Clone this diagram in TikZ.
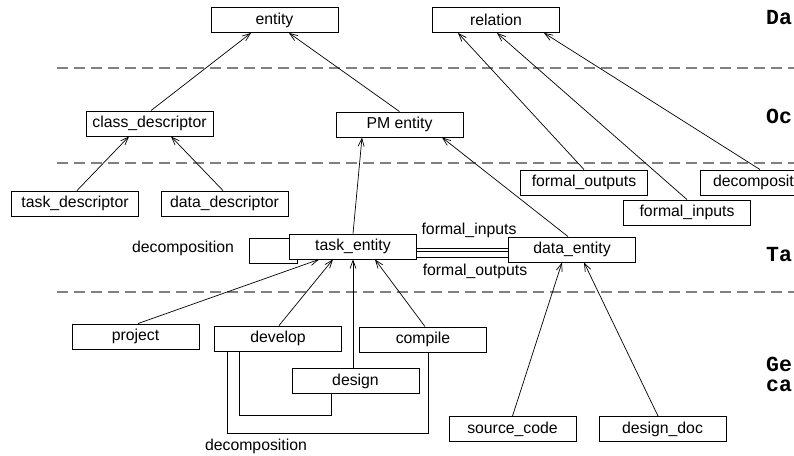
\documentclass[tikz,border=0pt]{standalone}
\usepackage{fontspec}
\setmainfont{Liberation Sans}
\newfontfamily\lyrfont{Liberation Mono}
\usetikzlibrary{arrows.meta}

\begin{document}
\begin{tikzpicture}[x=1pt, y=-1pt,
  cls/.style={rectangle, draw, fill=white, line width=0.9pt, minimum width=127pt, minimum height=25pt,
              inner sep=0pt, font=\fontsize{15.8}{18}\selectfont},
  isa/.style={-{Straight Barb[length=8pt, width=6pt]}, line width=0.7pt},
  rel/.style={line width=0.8pt},
  layer/.style={gray, line width=2pt, dash pattern=on 11pt off 6pt},
  lbl/.style={font=\fontsize{15.8}{18}\selectfont, inner sep=0pt},
  lyr/.style={font=\lyrfont\bfseries\fontsize{21.5}{24}\selectfont, anchor=west, inner sep=0pt}
]
\useasboundingbox (0,0) rectangle (794,455);
\clip (0,0) rectangle (794,455);

% layer borders
\draw[layer] (57,68) -- (794,68);
\draw[layer] (57,163) -- (794,163);
\draw[layer] (57,292) -- (794,292);

% layer names
\node[lyr] (lyrdata) at (766,18) {Da};
\node[lyr] (lyrocc)  at (766,116) {Oc};
\node[lyr] (lyrtask) at (766,255) {Ta};
\node[lyr] (lyrgen)  at (766,364) {Ge};
\node[lyr] (lyrcom)  at (766,386) {ca};

% top layer
\node[cls] (entity)   at (274.5,20) {entity};
\node[cls] (relation) at (496,20)   {relation};

% second layer
\node[cls] (classdesc) at (149.5,123.5) {class\_descriptor};
\node[cls] (pmentity)  at (399.5,124.5) {PM entity};

% third layer
\node[cls] (taskdesc) at (75,203.5)    {task\_descriptor};
\node[cls] (datadesc) at (224.5,203.5) {data\_descriptor};
\node[cls] (fout)     at (584,182.5)   {formal\_outputs};
\node[cls] (decomp)   at (764,182.5)   {decomposition};
\node[cls] (finp)     at (687,212.5)   {formal\_inputs};
\node[cls] (taskent)  at (353,246.5)   {task\_entity};
\node[cls] (dataent)  at (572,249.5)   {data\_entity};

% bottom layer
\node[cls] (project)   at (135.5,336.5) {project};
\node[cls] (develop)   at (278,338.5)   {develop};
\node[cls] (compile)   at (423,339.5)   {compile};
\node[cls] (design)    at (355.5,381)   {design};
\node[cls] (srccode)   at (512.5,429)   {source\_code};
\node[cls] (designdoc) at (662.5,429)   {design\_doc};

% relation labels
\node[lbl] (looplbl) at (183,248) {decomposition};
\node[lbl] (inlbl)   at (469,230) {formal\_inputs};
\node[lbl] (outlbl)  at (475,271) {formal\_outputs};
\node[lbl] (declbl)  at (256,446) {decomposition};

% inheritance arrows
\draw[isa] ([xshift=1.5pt]classdesc.north) -- ([xshift=-23.5pt]entity.south);
\draw[isa] (pmentity.north) -- ([xshift=14.5pt]entity.south);
\draw[isa] (fout.north) -- ([xshift=-38pt]relation.south);
\draw[isa] (finp.north) -- ([xshift=1pt]relation.south);
\draw[isa] ([xshift=-4pt]decomp.north) -- ([xshift=48pt]relation.south);
\draw[isa] ([xshift=2pt]taskdesc.north) -- ([xshift=-20.5pt]classdesc.south);
\draw[isa] ([xshift=-1.5pt]datadesc.north) -- ([xshift=21.5pt]classdesc.south);
\draw[isa] (taskent.north) -- ([xshift=-37.5pt]pmentity.south);
\draw[isa] ([xshift=-4pt]dataent.north) -- ([xshift=42.5pt]pmentity.south);
\draw[isa] ([xshift=2.5pt]project.north) -- ([xshift=-34pt]taskent.south);
\draw[isa] ([xshift=1pt]develop.north) -- ([xshift=-20pt]taskent.south);
\draw[isa] ([xshift=-2.5pt]design.north) -- (taskent.south);
\draw[isa] ([xshift=2pt]compile.north) -- ([xshift=22pt]taskent.south);
\draw[isa] (srccode.north) -- ([xshift=-10pt]dataent.south);
\draw[isa] ([xshift=-4.5pt]designdoc.north) -- ([xshift=12pt]dataent.south);

% task/data relations
\draw[rel] ([yshift=-5pt]taskent.north west) -| ++(-40,25) -| ([xshift=8pt]taskent.south west);
\draw[rel] ([yshift=-1.5pt]taskent.east) -- ([yshift=1.5pt]dataent.west);
\draw[rel] ([yshift=-4.5pt]taskent.east) -- ([yshift=-1.5pt]dataent.west);
\draw[rel] ([yshift=-10.5pt]taskent.east) -- ([yshift=-7.5pt]dataent.west);

% decomposition of develop
\draw[rel] ([xshift=25pt]develop.south west) -- ++(0,64) -| ([xshift=-24.5pt]design.south);
\draw[rel] ([xshift=13pt]develop.south west) -- ++(0,82) -| ([xshift=5pt]compile.south);
\end{tikzpicture}
\end{document}
